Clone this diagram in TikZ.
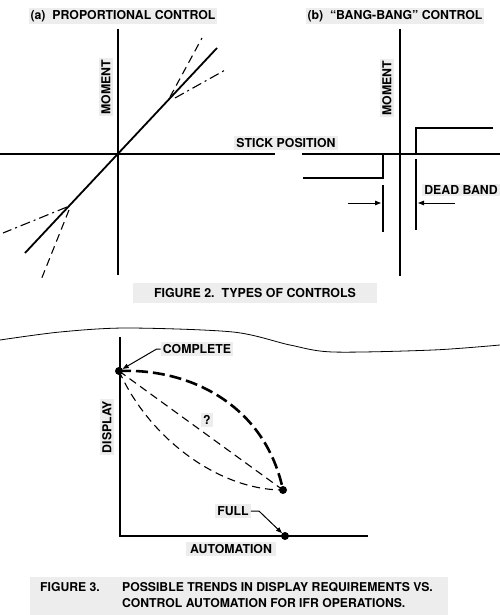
\documentclass[tikz,border=0pt]{standalone}
\usepackage{fontspec}
\setmainfont{TeX Gyre Heros}
\usetikzlibrary{arrows.meta}
\begin{document}
\begin{tikzpicture}[x=1pt,y=-1pt,
  lbl/.style={fill=black!7, inner xsep=2pt, inner ysep=2pt, font=\fontsize{12.3}{14}\selectfont\bfseries},
  capfont/.style={font=\fontsize{12.2}{16}\selectfont\bfseries, inner sep=0pt},
  axisline/.style={line width=1.8pt},
  propline/.style={line width=1.8pt},
  thindash/.style={line width=1.1pt, dash pattern=on 8pt off 5pt},
  thickdash/.style={line width=2.6pt, dash pattern=on 12pt off 5pt},
  dashdotline/.style={line width=1.1pt, dash pattern=on 10pt off 4pt on 2pt off 4pt},
  stepline/.style={line width=1.8pt},
  bandline/.style={line width=1.1pt},
  arr/.style={line width=1pt, -{Triangle[length=6pt,width=4.5pt]}},
  dotnode/.style={circle, fill=black, inner sep=0pt, minimum size=8pt},
  wave/.style={line width=0.8pt}
]
\useasboundingbox (0,0) rectangle (500,615);

% ---------- Panel (a)
\coordinate (ya1) at (118,29);
\coordinate (yb1) at (118,275);
\draw[axisline] (ya1) -- (yb1);
\coordinate (xl) at (0,154);
\coordinate (xg1) at (275,154);
\coordinate (xg2) at (302,154);
\coordinate (xr) at (500,154);
\draw[axisline] (xl) -- (xg1);
\draw[axisline] (xg2) -- (xr);
\coordinate (p1) at (25,253);
\coordinate (p2) at (217,48);
\draw[propline] (p1) -- (p2);
\coordinate (ud1) at (170,97);
\coordinate (ud2) at (202,38);
\draw[thindash] (ud1) -- (ud2);
\coordinate (uc1) at (175,98);
\coordinate (uc2) at (227,69);
\draw[dashdotline] (uc1) -- (uc2);
\coordinate (lc1) at (67,207);
\coordinate (lc2) at (3,233);
\draw[dashdotline] (lc1) -- (lc2);
\coordinate (ld1) at (69,210);
\coordinate (ld2) at (41,280);
\draw[thindash] (ld1) -- (ld2);

\node[lbl] (ta) at (123,16) {(a)\ \ PROPORTIONAL CONTROL};
\node[lbl, rotate=90] (ma) at (106,87) {MOMENT};
\node[lbl] (sp) at (286,143) {STICK POSITION};
\node[lbl, font=\fontsize{12.4}{14}\selectfont\bfseries, minimum width=244pt, minimum height=20pt] (f2) at (255,293) {FIGURE 2.\ \ TYPES OF CONTROLS};

% ---------- Panel (b)
\coordinate (ya2) at (400,29);
\coordinate (yb2) at (400,276);
\draw[axisline] (ya2) -- (yb2);
\coordinate (s1) at (303,178);
\coordinate (s2) at (383,178);
\coordinate (s3) at (383,154);
\draw[stepline] (s1) -- (s2) -- (s3);
\coordinate (s4) at (416,154);
\coordinate (s5) at (416,128);
\coordinate (s6) at (493,128);
\draw[stepline] (s4) -- (s5) -- (s6);
\coordinate (b1) at (383,185);
\coordinate (b2) at (383,232);
\draw[bandline] (b1) -- (b2);
\coordinate (b3) at (416,159);
\coordinate (b4) at (416,230);
\draw[bandline] (b3) -- (b4);
\coordinate (a1s) at (348,203);
\coordinate (a1e) at (381,203);
\draw[arr] (a1s) -- (a1e);
\coordinate (a2s) at (455,203);
\coordinate (a2e) at (418,203);
\draw[arr] (a2s) -- (a2e);

\node[lbl] (tb) at (395,16) {(b)\ \ ``BANG-BANG'' CONTROL};
\node[lbl, rotate=90] (mb) at (387,88) {MOMENT};
\node[lbl] (db) at (461,190) {DEAD BAND};

% ---------- Figure 3
\draw[wave] plot[smooth] coordinates {(0,340) (60,332) (127,328) (233,332) (290,345) (333,352) (433,350) (500,345)};
\coordinate (v3t) at (120,337);
\coordinate (v3o) at (120,536);
\coordinate (h3r) at (368,536);
\draw[axisline] (v3t) -- (v3o) -- (h3r);

\node[dotnode] (c) at (119,371) {};
\node[dotnode] (m) at (283,490) {};
\node[dotnode] (fa) at (285,536) {};

\draw[thickdash] (c.center) .. controls (190,368) and (265,405) .. (m.center);
\draw[thindash] (c.center) -- (m.center);
\draw[thindash] (c.center) .. controls (150,440) and (220,490) .. (m.center);

\node[lbl] (cl) at (197,349) {COMPLETE};
\draw[arr] (cl.west) -- ++(-4,0) -- (c);
\node[lbl] (fl) at (233,511) {FULL};
\draw[arr] (fl.east) -- ++(8,0) -- (fa);
\node[lbl, inner xsep=4pt] (al) at (231,549) {AUTOMATION};
\node[lbl, rotate=90] (dl) at (107,427) {DISPLAY};
\node[lbl] (q) at (207,420) {?};

\fill[black!7] (30,577) rectangle (448,615);
\node[capfont, anchor=base west] (f3a) at (40,591) {FIGURE 3.};
\node[capfont, anchor=base west] (f3b) at (122,591) {POSSIBLE TRENDS IN DISPLAY REQUIREMENTS VS.};
\node[capfont, anchor=base west] (f3c) at (122,607) {CONTROL AUTOMATION FOR IFR OPERATIONS.};
\end{tikzpicture}
\end{document}
